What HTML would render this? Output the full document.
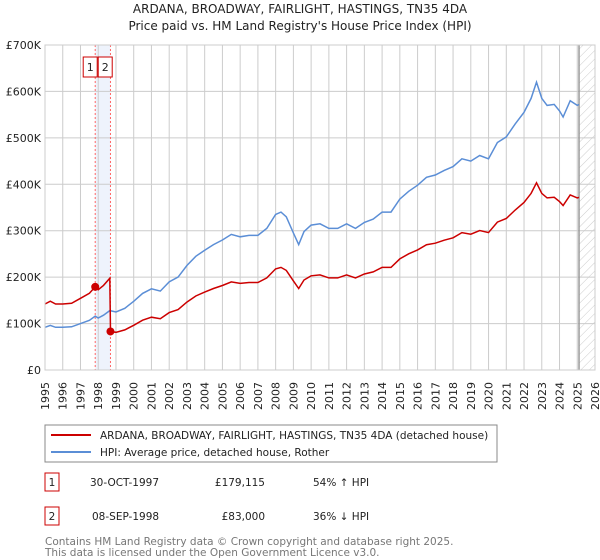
<!DOCTYPE html>
<html><head><meta charset="utf-8"><style>
body{margin:0;background:#fff;font-family:"Liberation Sans","DejaVu Sans",sans-serif;}
svg{display:block}
</style></head><body>
<svg id="c" width="600" height="560" viewBox="0 0 600 560" xmlns="http://www.w3.org/2000/svg" font-family="DejaVu Sans, Liberation Sans, sans-serif">
<defs><pattern id="hatch" width="6" height="6" patternUnits="userSpaceOnUse" patternTransform="rotate(45)"><line x1="0" y1="0" x2="0" y2="6" stroke="#ccc" stroke-width="1"/></pattern></defs>
<text x="300" y="13" text-anchor="middle" font-size="12" fill="#222">ARDANA, BROADWAY, FAIRLIGHT, HASTINGS, TN35 4DA</text>
<text x="300" y="30" text-anchor="middle" font-size="12" fill="#222">Price paid vs. HM Land Registry's House Price Index (HPI)</text>
<g id="grid"></g>
<g id="marks"></g>
<rect x="45" y="45" width="550" height="325" fill="none" stroke="#ccc"/>
<rect x="45" y="425" width="452" height="37" fill="#fff" stroke="#888"/>
<line x1="51" y1="435" x2="91" y2="435" stroke="#cc0000" stroke-width="2"/>
<text x="100" y="439" font-size="10.5" fill="#222">ARDANA, BROADWAY, FAIRLIGHT, HASTINGS, TN35 4DA (detached house)</text>
<line x1="51" y1="452" x2="91" y2="452" stroke="#5b8ed6" stroke-width="2"/>
<text x="100" y="456" font-size="10.5" fill="#222">HPI: Average price, detached house, Rother</text>
<g font-size="10.5" fill="#222">
<rect x="45" y="473" width="14" height="18" fill="#fff" stroke="#cc0000"/>
<text x="52" y="486" text-anchor="middle">1</text>
<text x="90" y="486">30-OCT-1997</text>
<text x="265" y="486" text-anchor="end">£179,115</text>
<text x="313" y="486">54% ↑ HPI</text>
<rect x="45" y="507" width="14" height="18" fill="#fff" stroke="#cc0000"/>
<text x="52" y="520" text-anchor="middle">2</text>
<text x="92" y="520">08-SEP-1998</text>
<text x="265" y="520" text-anchor="end">£83,000</text>
<text x="313" y="520">36% ↓ HPI</text>
</g>
<text x="45" y="545" font-size="10.5" fill="#777">Contains HM Land Registry data © Crown copyright and database right 2025.</text>
<text x="45" y="556" font-size="10.5" fill="#777">This data is licensed under the Open Government Licence v3.0.</text>
</svg>
<script>
const hpiYears=[1995,1995.3,1995.6,1996,1996.5,1997,1997.5,1997.83,1998,1998.3,1998.65,1999,1999.5,2000,2000.5,2001,2001.5,2002,2002.5,2003,2003.5,2004,2004.5,2005,2005.5,2006,2006.5,2007,2007.5,2008,2008.3,2008.6,2009,2009.3,2009.6,2010,2010.5,2011,2011.5,2012,2012.5,2013,2013.5,2014,2014.5,2015,2015.5,2016,2016.5,2017,2017.5,2018,2018.5,2019,2019.5,2020,2020.5,2021,2021.5,2022,2022.4,2022.7,2023,2023.3,2023.7,2024,2024.2,2024.6,2025,2025.1];
const hpiValues=[92000,96000,92000,92000,93000,100000,107000,116000,112000,118000,128000,125000,133000,148000,165000,175000,170000,190000,200000,225000,245000,258000,270000,280000,292000,287000,290000,290000,305000,335000,340000,330000,295000,270000,298000,312000,315000,305000,305000,315000,305000,318000,325000,340000,340000,368000,385000,398000,415000,420000,430000,438000,455000,450000,462000,455000,490000,502000,530000,555000,585000,620000,585000,570000,572000,558000,545000,580000,570000,572000];
const saleYears=[1997.83,1998.69];
const salePrices=[179115,83000];
const yTicks=[0,100000,200000,300000,400000,500000,600000,700000];
const yTickLabels=["£0","£100K","£200K","£300K","£400K","£500K","£600K","£700K"];
const xTicks=[1995,1996,1997,1998,1999,2000,2001,2002,2003,2004,2005,2006,2007,2008,2009,2010,2011,2012,2013,2014,2015,2016,2017,2018,2019,2020,2021,2022,2023,2024,2025,2026];
const dataEnd=2025.1;

const NS="http://www.w3.org/2000/svg";
const X=t=>45+(t-1995)*550/31;
const Y=v=>370-v*325/700000;
function mk(tag,attrs,parent){const e=document.createElementNS(NS,tag);for(const k in attrs)e.setAttribute(k,attrs[k]);parent.appendChild(e);return e;}
function hpiAt(t){for(let i=1;i<hpiYears.length;i++){if(t<=hpiYears[i]){const f=(t-hpiYears[i-1])/(hpiYears[i]-hpiYears[i-1]);return hpiValues[i-1]+f*(hpiValues[i]-hpiValues[i-1]);}}return hpiValues[hpiValues.length-1];}
const grid=document.getElementById('grid'),marks=document.getElementById('marks');
let r=mk('rect',{x:X(saleYears[0]),y:45,width:X(saleYears[1])-X(saleYears[0]),height:325,fill:'#eef3fc'},grid);


r=mk('rect',{x:X(dataEnd),y:45,width:595-X(dataEnd),height:325,fill:'url(#hatch)'},grid);


yTicks.forEach((v,i)=>{
 const l=mk('line',{x1:45,x2:595,y1:Y(v),y2:Y(v),stroke:'#ccc'},grid);
 
 
 const t=mk('text',{x:41,y:Y(v)+4,'text-anchor':'end','font-size':'11',fill:'#222'},grid);t.textContent=yTickLabels[i];
 
 
});
xTicks.forEach(yr=>{
 const l=mk('line',{x1:X(yr),x2:X(yr),y1:45,y2:370,stroke:'#ccc'},grid);
 
 
 const t=mk('text',{transform:`translate(${X(yr)+4},410) rotate(-90)`,'font-size':'11',fill:'#222'},grid);t.textContent=yr;
 
 
});
let dl=mk('line',{x1:X(dataEnd),x2:X(dataEnd),y1:45,y2:370,stroke:'#999','stroke-width':1.5},grid);


saleYears.forEach((s,i)=>{
 const l=mk('line',{x1:X(s),x2:X(s),y1:45,y2:370,stroke:'#ff6666','stroke-dasharray':'2,2'},grid);
 
 
 const bx=X(saleYears[0])+(i==0?-12:3);
 const b=mk('rect',{x:bx,y:57,width:14,height:20,fill:'#fff',stroke:'#cc0000'},grid);
 
 
 const t=mk('text',{x:bx+7,y:71,'text-anchor':'middle','font-size':'11',fill:'#222'},grid);t.textContent=i+1;
 
 
});
let d=hpiYears.map((t,i)=>(i?'L':'M')+X(t).toFixed(1)+','+Y(hpiValues[i]).toFixed(1)).join('');
let p=mk('path',{d:d,fill:'none',stroke:'#5b8ed6','stroke-width':1.5},marks);


const r1=salePrices[0]/hpiAt(saleYears[0]), r2=salePrices[1]/hpiAt(saleYears[1]);
let pts=[];
hpiYears.forEach((t,i)=>{if(t<saleYears[1])pts.push([t,hpiValues[i]*r1]);});
pts.push([saleYears[1]-0.04,hpiAt(saleYears[1]-0.04)*r1]);
pts.push([saleYears[1],salePrices[1]]);
hpiYears.forEach((t,i)=>{if(t>saleYears[1])pts.push([t,hpiValues[i]*r2]);});
d=pts.map((q,i)=>(i?'L':'M')+X(q[0]).toFixed(1)+','+Y(q[1]).toFixed(1)).join('');
p=mk('path',{d:d,fill:'none',stroke:'#cc0000','stroke-width':1.5},marks);


saleYears.forEach((s,i)=>{
 const c=mk('circle',{cx:X(s),cy:Y(salePrices[i]),r:4,fill:'#cc0000'},marks);
 
 
});
</script>
</body></html>
